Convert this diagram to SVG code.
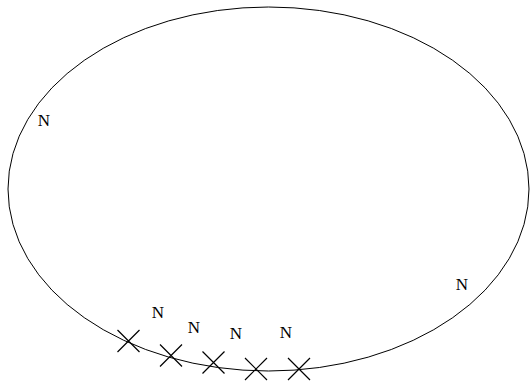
<svg xmlns="http://www.w3.org/2000/svg" width="530" height="381" viewBox="0 0 530 381">
<style>
.o{fill:none;stroke:#000;stroke-width:1}
.x{stroke:#000;stroke-width:1.2;fill:none}
text{font-family:"Liberation Serif","Times New Roman",serif;font-size:17px;fill:#000;text-anchor:middle}
</style>
<rect width="530" height="381" fill="#fff"/>
<g id="ellipse"><ellipse class="o" cx="268.5" cy="189" rx="260.5" ry="182"/></g>
<g id="labels">
<text x="44" y="126">N</text>
<text x="462" y="290">N</text>
<text x="158" y="318">N</text>
<text x="194" y="333">N</text>
<text x="236" y="339">N</text>
<text x="286" y="338">N</text>
</g>
<g id="crosses">
<path class="x" d="M117.5 330l22 22M139.5 330l-22 22"/>
<path class="x" d="M160 344.5l22 22M182 344.5l-22 22"/>
<path class="x" d="M202.5 351.5l22 22M224.5 351.5l-22 22"/>
<path class="x" d="M245 358l22 22M267 358l-22 22"/>
<path class="x" d="M288 358l22 22M310 358l-22 22"/>
</g>
</svg>
